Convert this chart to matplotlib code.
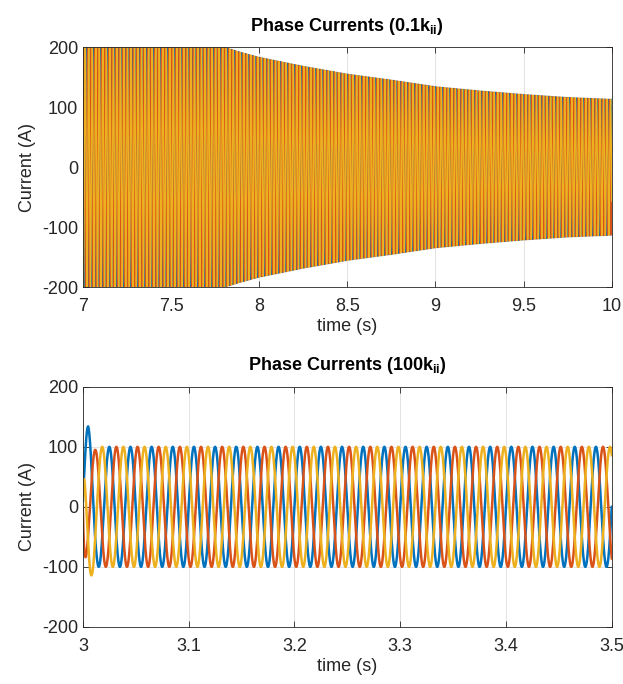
import numpy as np
import matplotlib
matplotlib.use('Agg')
import matplotlib.pyplot as plt

plt.rcParams['font.family'] = ['Liberation Sans', 'DejaVu Sans']
plt.rcParams['mathtext.fontset'] = 'custom'
plt.rcParams['mathtext.rm'] = 'Liberation Sans'
plt.rcParams['mathtext.bf'] = 'Liberation Sans:bold'
plt.rcParams['axes.unicode_minus'] = False

# MATLAB default line colours (phase a, b, c)
colors = ['#0072BD', '#D95319', '#EDB120']
f_grid = 50.0  # Hz

# ---- top panel (0.1 k_ii): amplitude envelope
top_env_t = [7.0, 7.8, 7.9, 8.0, 8.25, 8.5, 8.75, 9.0, 9.25, 9.5, 9.75, 10.0]
top_env_a = [200, 200, 191, 183, 168, 155, 145, 134, 127, 121, 116, 113]

# ---- bottom panel (100 k_ii): per-phase first peak time, start value, envelope
bot_peak_t = [3.005, 3.0117, 3.0183]
bot_start = [10, 0, 15]
bot_env_t = [[3.0, 3.005, 3.013, 3.5],
             [3.0, 3.012, 3.02, 3.5],
             [3.0, 3.0066, 3.014, 3.5]]
bot_env_a = [[134, 134, 100, 100],
             [93, 95, 100, 100],
             [118, 118, 100, 100]]

w = 2 * np.pi * f_grid

fig = plt.figure(figsize=(6.23, 6.84), dpi=100)
ax1 = fig.add_axes([0.133, 0.580, 0.849, 0.351])
ax2 = fig.add_axes([0.133, 0.0835, 0.849, 0.351])

# top
t1 = np.linspace(7, 10, 90001)
amp1 = np.interp(t1, top_env_t, top_env_a)
for k in range(3):
    ax1.plot(t1, amp1 * np.cos(w * (t1 - 7.0) - 2 * np.pi * k / 3),
             color=colors[k], lw=1.0)

# bottom
t2 = np.linspace(3, 3.5, 20001)
for k in range(3):
    amp = np.interp(t2, bot_env_t[k], bot_env_a[k])
    steady = amp * np.cos(w * (t2 - bot_peak_t[k]))
    off = (bot_start[k] - steady[0]) * np.exp(-(t2 - 3.0) / 0.001)
    ax2.plot(t2, steady + off, color=colors[k], lw=1.8)

titles = [r'Phase Currents (0.1k$_{\mathbf{ii}}$)',
          r'Phase Currents (100k$_{\mathbf{ii}}$)']
for ax, ttl in zip([ax1, ax2], titles):
    ax.set_ylim(-200, 200)
    ax.set_yticks([-200, -100, 0, 100, 200])
    ax.set_ylabel('Current (A)', fontsize=13, color='#262626', labelpad=4)
    ax.set_xlabel('time (s)', fontsize=13, color='#262626', labelpad=2)
    ax.set_title(ttl, fontsize=13, fontweight='bold', pad=12)
    ax.grid(True, color='#dfdfdf', lw=0.6)
    ax.set_axisbelow(True)
    ax.tick_params(direction='in', top=True, right=True, labelsize=13,
                   colors='#262626', length=4, width=0.6)
    ax.tick_params(axis='x', pad=8)
    for s in ax.spines.values():
        s.set_color('#262626')
        s.set_linewidth(0.6)

ax1.set_xlim(7, 10)
ax1.set_xticks([7, 7.5, 8, 8.5, 9, 9.5, 10])
ax1.set_xticklabels(['7', '7.5', '8', '8.5', '9', '9.5', '10'])
ax2.set_xlim(3, 3.5)
ax2.set_xticks([3, 3.1, 3.2, 3.3, 3.4, 3.5])
ax2.set_xticklabels(['3', '3.1', '3.2', '3.3', '3.4', '3.5'])

fig.savefig('out.png', dpi=100)
